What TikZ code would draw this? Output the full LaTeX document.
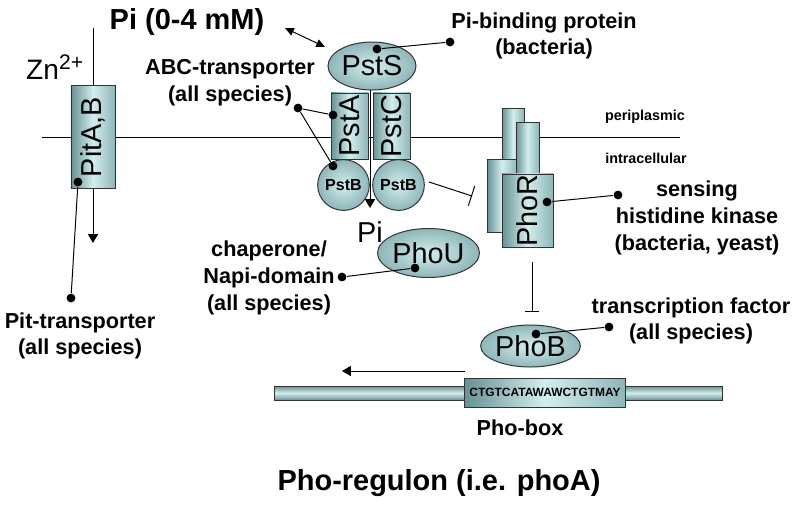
\documentclass[tikz,border=0pt]{standalone}
\usepackage{fontspec}
\setmainfont{Liberation Sans}
\usetikzlibrary{arrows.meta,shapes.geometric}

\definecolor{tealdark}{RGB}{104,146,148}
\definecolor{teallight}{RGB}{210,238,238}
\definecolor{tealmid}{RGB}{142,182,184}

\begin{document}
\begin{tikzpicture}[x=0.025cm, y=-0.025cm, line width=0.7pt,
  tmbox/.style={draw=black!80, line width=0.7pt, left color=tealdark, right color=tealmid, middle color=teallight},
  strand/.style={draw=black!80, line width=0.7pt, top color=tealdark, bottom color=tealdark, middle color=teallight},
  blob/.style={ellipse, draw=black!80, line width=0.7pt, inner color=teallight, outer color=tealmid, inner sep=0pt},
  blackdot/.style={circle, fill=black, inner sep=0pt, minimum size=0.22cm},
  lbl/.style={font=\bfseries\fontsize{15.4}{19}\selectfont, align=center},
  prot/.style={font=\fontsize{20.5}{24}\selectfont},
  tip/.style={-{Triangle[width=0.25cm,length=0.22cm]}}]

\useasboundingbox (0,0) rectangle (800,507);

% membrane
\coordinate (memL) at (42,137);
\coordinate (memR) at (680,137);
\draw (memL) -- (memR);
\node[font=\bfseries\fontsize{10.2}{12}\selectfont] (peri) at (645,117) {periplasmic};
\node[font=\bfseries\fontsize{10.2}{12}\selectfont] (intra) at (646,158) {intracellular};

% Pit
\coordinate (pitin) at (93,28);
\coordinate (pitout) at (93,243);
\draw[tip] (pitin) -- (pitout);
\node[tmbox, inner sep=0pt, minimum width=1.1cm, minimum height=2.55cm, prot] (pit) at (93,137) {\rotatebox{90}{PitA,B}};
\node[font=\fontsize{20}{24}\selectfont] (zn) at (55,67) {Zn\textsuperscript{\fontsize{15}{16}\selectfont 2+}};

\node[font=\bfseries\fontsize{20.6}{24}\selectfont] (pimm) at (187,22) {Pi (0-4 mM)};
\coordinate (pia) at (285,28);
\coordinate (pib) at (325,47);
\draw[{Triangle[width=0.2cm,length=0.22cm]}-{Triangle[width=0.2cm,length=0.22cm]}] (pia) -- (pib);

% Pst system
\node[blob, minimum width=2.2cm, minimum height=1.2cm, prot] (psts) at (372,66) {PstS};
\node[tmbox, inner sep=0pt, minimum width=0.925cm, minimum height=1.65cm, prot] (psta) at (349.5,126) {\rotatebox{90}{PstA}};
\node[tmbox, inner sep=0pt, minimum width=0.925cm, minimum height=1.65cm, prot] (pstc) at (391.5,126) {\rotatebox{90}{PstC}};
\node[blob, minimum width=1.27cm, minimum height=1.27cm, font=\bfseries\fontsize{11.4}{13}\selectfont] (pstbl) at (343.5,185) {PstB};
\node[blob, minimum width=1.27cm, minimum height=1.27cm, font=\bfseries\fontsize{11.4}{13}\selectfont] (pstbr) at (398.5,185) {PstB};
\coordinate (pstin) at (370,90);
\coordinate (pstout) at (370,208);
\draw[tip] (pstin) -- (pstout);
\node[prot] (pi) at (370,232) {Pi};
\node[blob, minimum width=2.175cm, minimum height=1.225cm, prot] (phou) at (428.5,253) {PhoU};

\coordinate (pstbx) at (429,182);
\coordinate (phorx) at (472,196);
\draw[-{Bar[width=0.52cm]}] (pstbx) -- (phorx);

% PhoR
\draw[tmbox] (502,108) rectangle (524,200);
\draw[tmbox] (487,159) rectangle (517,232);
\draw[tmbox] (516,122) rectangle (539,200);
\node[tmbox, inner sep=0pt, minimum width=1.275cm, minimum height=1.825cm, prot] (phor) at (527.5,210.5) {\rotatebox{90}{PhoR}};

\coordinate (phorlo) at (532,262);
\coordinate (phobhi) at (532,312);
\draw[-{Bar[width=0.33cm]}] (phorlo) -- (phobhi);
\node[blob, minimum width=2.175cm, minimum height=1.05cm, prot] (phob) at (530.5,346) {PhoB};

% DNA
\node[strand, inner sep=0pt, minimum width=11.175cm, minimum height=0.35cm] (dna) at (498.5,393) {};
\node[tmbox, inner sep=0pt, minimum width=4cm, minimum height=0.725cm, font=\bfseries\fontsize{8.5}{10}\selectfont] (phobox) at (545,392.5) {CTGTCATAWAWCTGTMAY};
\coordinate (txa) at (465,371);
\coordinate (txb) at (342,371);
\draw[tip] (txa) -- (txb);
\node[lbl] (phoboxlbl) at (520,428) {Pho-box};
\node[font=\bfseries\fontsize{20.6}{24}\selectfont] (regulon) at (439,483) {Pho-regulon (i.e. phoA)};

% labels
\node[lbl] (bind) at (544,36) {Pi-binding protein\\(bacteria)};
\node[blackdot] (pstsdot) at (377,49) {};
\node[blackdot] (binddot) at (450,42) {};
\draw (pstsdot) -- (binddot);

\node[lbl] (abc) at (230,83) {ABC-transporter\\(all species)};
\node[blackdot] (abcdot) at (298,108) {};
\node[blackdot] (pstadot) at (333,115) {};
\node[blackdot] (pstbdot) at (333,166) {};
\draw (abcdot) -- (pstadot);
\draw (abcdot) -- (pstbdot);

\node[blackdot] (pitdot) at (78,182) {};
\node[blackdot] (pitlbldot) at (71,298) {};
\draw (pitdot) -- (pitlbldot);
\node[lbl] (pitlbl) at (80,336) {Pit-transporter\\(all species)};

\node[blackdot] (phordot) at (547,202) {};
\node[blackdot] (sensedot) at (618,195) {};
\draw (phordot) -- (sensedot);
\node[lbl] (sense) at (697,218) {sensing\\histidine kinase\\(bacteria, yeast)};

\node[blackdot] (phoudot) at (415,268) {};
\node[blackdot] (chapdot) at (342,277) {};
\draw (phoudot) -- (chapdot);
\node[lbl] (chap) at (269,278) {chaperone/\\Napi-domain\\(all species)};

\node[blackdot] (phobdot) at (536,334) {};
\node[blackdot] (tfdot) at (609,327) {};
\draw (phobdot) -- (tfdot);
\node[lbl] (tf) at (691,321) {transcription factor\\(all species)};

\end{tikzpicture}
\end{document}
